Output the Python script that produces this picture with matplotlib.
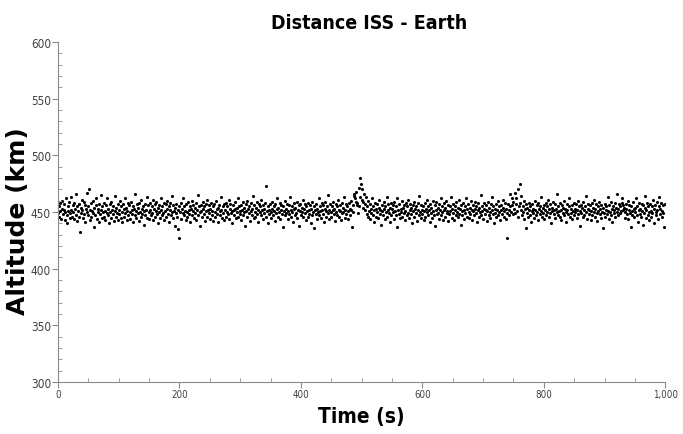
import matplotlib.pyplot as plt
import numpy as np
from matplotlib.ticker import MultipleLocator, FuncFormatter

# altitude readings, one per second (km)
altitude = [
    449, 455, 446, 458, 451, 444, 453, 460, 448, 452, 457, 443, 450, 462, 447, 440, 455, 451, 459, 445, 449, 463, 452, 446, 456,
    450, 458, 444, 453, 466, 447, 455, 442, 451, 457, 446, 432, 454, 449, 461, 452, 445, 459, 448, 456, 441, 453, 467, 450, 447,
    455, 470, 443, 452, 458, 446, 451, 460, 449, 437, 454, 447, 456, 462, 444, 450, 453, 441, 457, 448, 465, 452, 445, 455, 450,
    446, 458, 451, 443, 456, 449, 462, 447, 453, 440, 457, 450, 445, 459, 452, 448, 455, 442, 451, 464, 446, 454, 449, 457, 443,
    452, 448, 460, 445, 455, 450, 441, 457, 453, 446, 462, 449, 454, 443, 451, 458, 447, 456, 450, 444, 459, 452, 448, 455, 441,
    453, 447, 466, 451, 445, 457, 449, 454, 442, 458, 450, 446, 461, 453, 448, 455, 439, 451, 457, 447, 452, 463, 445, 456, 450,
    444, 458, 452, 447, 455, 449, 461, 443, 453, 457, 446, 451, 459, 448, 454, 440, 456, 450, 445, 462, 452, 447, 455, 449, 458,
    443, 451, 457, 446, 453, 460, 448, 455, 441, 452, 458, 447, 450, 464, 445, 456, 451, 438, 454, 449, 457, 446, 452, 435, 455,
    427, 450, 458, 444, 453, 449, 462, 447, 455, 451, 443, 457, 450, 446, 459, 452, 448, 455, 441, 453, 460, 447, 451, 456, 445,
    454, 449, 458, 443, 452, 465, 447, 455, 450, 438, 456, 451, 446, 459, 453, 448, 455, 442, 451, 457, 446, 461, 452, 449, 456,
    444, 453, 458, 447, 451, 455, 442, 457, 450, 446, 460, 453, 448, 454, 441, 456, 451, 447, 463, 452, 445, 455, 449, 457, 443,
    452, 458, 446, 450, 455, 448, 461, 444, 453, 457, 449, 451, 440, 456, 452, 447, 459, 453, 445, 454, 450, 462, 446, 455, 451,
    448, 456, 443, 452, 459, 447, 454, 450, 438, 457, 451, 446, 460, 453, 449, 455, 442, 451, 458, 447, 453, 464, 445, 456, 450,
    446, 454, 459, 448, 452, 441, 457, 450, 455, 447, 461, 452, 444, 456, 449, 453, 458, 446, 473, 451, 455, 440, 452, 448, 457,
    450, 445, 459, 453, 447, 455, 451, 442, 457, 449, 462, 453, 446, 454, 450, 458, 444, 452, 456, 448, 437, 455, 451, 460, 447,
    453, 449, 457, 444, 451, 456, 448, 463, 452, 446, 455, 450, 441, 458, 453, 447, 454, 449, 459, 445, 452, 456, 438, 451, 457,
    447, 454, 450, 461, 446, 453, 457, 449, 443, 455, 451, 458, 446, 452, 448, 456, 440, 453, 459, 447, 450, 436, 455, 452, 448,
    457, 444, 453, 450, 462, 447, 455, 451, 445, 458, 452, 448, 456, 441, 453, 459, 446, 451, 455, 449, 465, 452, 444, 457, 450,
    446, 455, 452, 459, 448, 453, 442, 457, 450, 455, 447, 461, 452, 446, 456, 451, 443, 458, 449, 454, 450, 463, 445, 452, 457,
    448, 455, 451, 444, 458, 453, 447, 460, 452, 437, 456, 450, 466, 464, 462, 459, 468, 458, 456, 449, 471, 455, 480, 463, 475,
    461, 470, 459, 454, 466, 457, 452, 463, 448, 455, 460, 446, 451, 457, 444, 453, 449, 462, 447, 455, 441, 452, 458, 446, 453,
    450, 457, 445, 454, 461, 448, 452, 439, 456, 451, 447, 459, 453, 444, 455, 450, 463, 446, 452, 457, 449, 441, 454, 458, 447,
    453, 450, 456, 444, 459, 451, 447, 455, 462, 437, 452, 448, 457, 445, 453, 450, 460, 446, 454, 449, 456, 443, 451, 458, 447,
    455, 449, 461, 445, 452, 457, 448, 454, 440, 456, 451, 446, 459, 453, 449, 455, 442, 452, 458, 447, 464, 450, 445, 456, 452,
    448, 455, 443, 451, 458, 446, 453, 450, 461, 447, 455, 452, 441, 457, 449, 454, 445, 460, 451, 447, 456, 438, 452, 459, 448,
    454, 449, 457, 444, 452, 462, 447, 455, 450, 443, 458, 452, 446, 454, 460, 449, 451, 442, 456, 448, 455, 451, 463, 445, 453,
    449, 457, 443, 452, 455, 447, 459, 450, 446, 454, 461, 448, 453, 439, 456, 451, 447, 458, 452, 444, 455, 449, 462, 446, 453,
    457, 450, 445, 454, 448, 460, 452, 443, 456, 451, 447, 459, 453, 449, 455, 441, 452, 458, 446, 454, 450, 465, 447, 455, 451,
    444, 453, 458, 448, 452, 456, 442, 451, 459, 447, 454, 450, 445, 457, 452, 463, 448, 455, 440, 453, 449, 457, 446, 452, 460,
    447, 455, 450, 443, 456, 452, 448, 461, 454, 446, 451, 458, 444, 453, 449, 427, 457, 452, 447, 466, 455, 450, 462, 456, 448,
    459, 453, 467, 449, 457, 462, 451, 446, 470, 455, 475, 458, 452, 464, 447, 455, 450, 460, 444, 453, 436, 457, 449, 454, 446,
    452, 458, 447, 455, 441, 451, 457, 449, 453, 445, 460, 452, 447, 456, 450, 443, 458, 453, 448, 455, 451, 463, 446, 454, 449,
    456, 444, 452, 458, 447, 455, 450, 461, 446, 453, 457, 449, 440, 454, 451, 459, 448, 452, 445, 457, 453, 450, 466, 447, 455,
    451, 446, 458, 452, 443, 456, 449, 454, 460, 447, 453, 450, 441, 457, 452, 448, 455, 462, 446, 453, 449, 456, 444, 451, 458,
    447, 453, 450, 457, 445, 452, 460, 448, 455, 451, 438, 456, 449, 454, 446, 459, 452, 447, 455, 450, 464, 444, 453, 457, 448,
    452, 456, 443, 451, 458, 447, 454, 450, 461, 446, 453, 457, 449, 442, 455, 451, 459, 448, 453, 445, 456, 450, 436, 454, 449,
    457, 446, 452, 455, 448, 463, 451, 444, 456, 450, 447, 459, 453, 441, 455, 449, 452, 458, 446, 454, 450, 466, 447, 453, 457,
    449, 455, 451, 458, 462, 452, 456, 454, 450, 445, 457, 453, 448, 460, 444, 452, 456, 449, 437, 455, 451, 447, 459, 453, 446,
    454, 450, 462, 447, 455, 441, 452, 458, 448, 453, 446, 457, 451, 439, 456, 449, 454, 464, 445, 452, 458, 447, 455, 450, 443,
    457, 451, 446, 455, 449, 461, 453, 440, 456, 450, 447, 459, 452, 444, 455, 463, 448, 453, 458, 446, 451, 456, 449, 437, 457,
]
time_s = np.arange(len(altitude))

fig = plt.figure(figsize=(6.83, 4.35), dpi=100)
ax = fig.add_axes([0.085, 0.1195, 0.889, 0.7815])

ax.scatter(time_s, altitude, s=5, color='black', linewidths=0)

ax.set_xlim(0, 1000)
ax.set_ylim(300, 600)
ax.xaxis.set_major_locator(MultipleLocator(200))
ax.xaxis.set_minor_locator(MultipleLocator(50))
ax.yaxis.set_major_locator(MultipleLocator(50))
ax.yaxis.set_minor_locator(MultipleLocator(10))
ax.xaxis.set_major_formatter(FuncFormatter(lambda v, p: f'{int(v):,}'))

for s in ['top', 'right']:
    ax.spines[s].set_visible(False)
for s in ['left', 'bottom']:
    ax.spines[s].set_color('#8c8c8c')

ax.tick_params(which='major', length=4, color='#8c8c8c', labelcolor='#404040', pad=1)
ax.tick_params(which='minor', length=3, color='#8c8c8c', direction='in')
for lbl in ax.get_yticklabels():
    lbl.set_fontstretch('condensed')
    lbl.set_fontsize(8.5)
for lbl in ax.get_xticklabels():
    lbl.set_fontstretch('condensed')
    lbl.set_fontsize(7)

ax.set_title('Distance ISS - Earth', fontweight='bold', fontstretch='condensed',
             fontsize=14, pad=10, x=0.513)
ax.set_xlabel('Time (s)', fontweight='bold', fontstretch='condensed', fontsize=15, labelpad=5)
ax.set_ylabel('Altitude (km)', fontweight='bold', fontsize=18)
ax.yaxis.set_label_coords(-0.047, 0.475)

fig.savefig('out.png', dpi=100)
